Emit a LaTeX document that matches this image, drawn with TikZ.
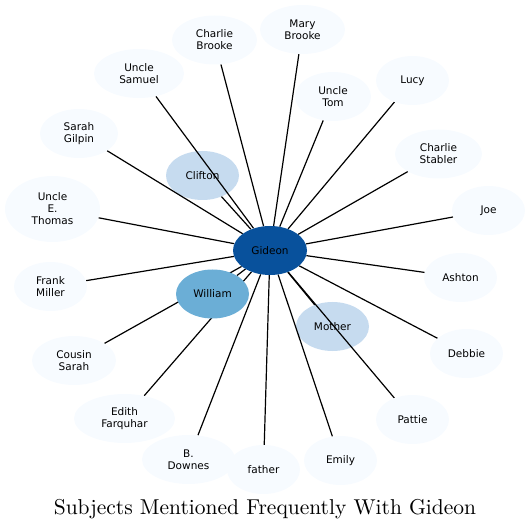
\documentclass[tikz,border=0pt]{standalone}
\usepackage{fontspec}
\newfontfamily\labelfont{DejaVu Sans}
\newfontfamily\titlefont{lmroman10-regular.otf}
\usepackage{xcolor}
\definecolor{bluesdark}{HTML}{08519C}
\definecolor{bluesmid}{HTML}{6BAED6}
\definecolor{blueslight}{HTML}{C6DBEF}
\definecolor{bluespale}{HTML}{F7FBFF}
\usepackage{tikz}
\usetikzlibrary{shapes.geometric}
\pgfdeclarelayer{back}
\pgfdeclarelayer{links}
\pgfsetlayers{back,links,main}

\begin{document}
\begin{tikzpicture}[
  x=1pt, y=-1pt,
  person/.style={ellipse, align=center, text=black, draw=none,
                 font=\labelfont\fontsize{10.5}{12}\selectfont,
                 inner sep=0pt, minimum width=73pt, minimum height=49pt},
  hub/.style={person, fill=bluesdark},
  midperson/.style={person, fill=bluesmid},
  lightperson/.style={person, fill=blueslight},
  paleperson/.style={person, fill=bluespale},
  link/.style={line width=1.2pt, draw=black},
  ttl/.style={anchor=base, font=\titlefont\fontsize{21.5}{24}\selectfont}
]
\useasboundingbox (0,0) rectangle (530,529);

\node[hub, minimum width=74pt] (gideon) at (270,250.5) {Gideon};
\node[midperson] (william) at (212.5,294) {William};
\begin{pgfonlayer}{back}
\node[lightperson] (clifton) at (202.5,175.5) {Clifton};
\node[lightperson] (mother) at (332.5,326.5) {Mother};
\end{pgfonlayer}

\node[paleperson, minimum width=85pt] (cbrooke) at (214.5,40) {Charlie\\Brooke};
\node[paleperson, minimum width=85pt] (mbrooke) at (302.5,29.5) {Mary\\Brooke};
\node[paleperson, minimum width=90pt] (usamuel) at (139,73.5) {Uncle\\Samuel};
\node[paleperson, minimum width=76pt] (utom) at (333,96.5) {Uncle\\Tom};
\node[paleperson] (lucy) at (412.5,80.5) {Lucy};
\node[paleperson, minimum width=78pt] (sgilpin) at (79,133.5) {Sarah\\Gilpin};
\node[paleperson, minimum width=87pt] (cstabler) at (438.5,154) {Charlie\\Stabler};
\node[paleperson, minimum width=95pt, minimum height=66pt] (uthomas) at (52.5,209) {Uncle\\E.\\Thomas};
\node[paleperson] (joe) at (488.5,210.5) {Joe};
\node[paleperson] (ashton) at (460.5,277.5) {Ashton};
\node[paleperson] (fmiller) at (50.5,286.5) {Frank\\Miller};
\node[paleperson] (debbie) at (466.5,353.5) {Debbie};
\node[paleperson, minimum width=84pt] (csarah) at (74,360.5) {Cousin\\Sarah};
\node[paleperson, minimum width=101pt] (efarquhar) at (124.5,418.5) {Edith\\Farquhar};
\node[paleperson] (pattie) at (412.5,419.5) {Pattie};
\node[paleperson, minimum width=93pt] (bdownes) at (188.5,459.5) {B.\\Downes};
\node[paleperson] (emily) at (340.5,460.5) {Emily};
\node[paleperson] (father) at (263.5,469.5) {father};

\begin{pgfonlayer}{links}
\foreach \other in {william, clifton, mother, cbrooke, mbrooke, usamuel, utom,
                    lucy, sgilpin, cstabler, uthomas, joe, ashton, fmiller,
                    debbie, csarah, efarquhar, pattie, bdownes, emily, father}
  \draw[link] (gideon) -- (\other);
\end{pgfonlayer}

\node[ttl] (title) at (265,514) {Subjects Mentioned Frequently With Gideon};
\end{tikzpicture}
\end{document}
